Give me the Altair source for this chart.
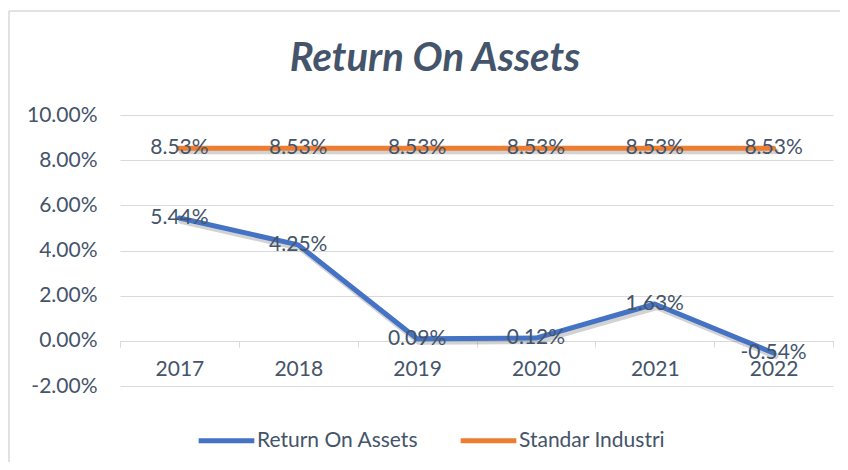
import altair as alt
import pandas as pd

years = ["2017", "2018", "2019", "2020", "2021", "2022"]
roa = [5.44, 4.25, 0.09, 0.12, 1.63, -0.54]
industry = [8.53, 8.53, 8.53, 8.53, 8.53, 8.53]
series_names = ["Return On Assets", "Standar Industri"]
series_colors = ["#4472C4", "#ED7D31"]
y_ticks = [-2, 0, 2, 4, 6, 8, 10]
chart_title = "Return On Assets"

rows = []
for name, vals in zip(series_names, [roa, industry]):
    for yr, v in zip(years, vals):
        rows.append({"year": yr, "value": v, "series": name, "label": f"{v:.2f}%"})
df = pd.DataFrame(rows)

FONT = "Lato"
TXT = "#44546A"
GRID = "#D9D9D9"
FS = 21

x_enc = alt.X(
    "year:N", sort=years,
    scale=alt.Scale(type="band", paddingInner=0, paddingOuter=0),
    axis=alt.Axis(title=None, offset=-45, labelAngle=0, domainColor=GRID,
                  tickColor=GRID, tickSize=6, tickBand="extent",
                  labelPadding=11, labelFontSize=FS, labelColor=TXT,
                  labelFont=FONT, grid=False),
)
y_enc = alt.Y(
    "value:Q",
    scale=alt.Scale(domain=[-2, 10], nice=False, zero=False),
    axis=alt.Axis(title=None, values=y_ticks, domain=False, ticks=False,
                  labelPadding=23, labelFontSize=FS, labelColor=TXT, labelFont=FONT,
                  gridColor=GRID, gridWidth=1,
                  labelExpr="replace(format(datum.value, '.2f'), '\u2212', '-') + '%'"),
)

base = alt.Chart(df)

shadow = base.mark_line(strokeWidth=6, color="#7f7f7f", opacity=0.35,
                        xOffset=2, yOffset=3, strokeJoin="round",
                        strokeCap="round").encode(
    x=x_enc, y=y_enc, detail="series:N")

lines = base.mark_line(strokeWidth=5, strokeJoin="round", strokeCap="round").encode(
    x=x_enc, y=y_enc,
    color=alt.Color("series:N", sort=series_names,
                    scale=alt.Scale(domain=series_names, range=series_colors),
                    legend=alt.Legend(orient="none", legendX=76, legendY=295,
                                      direction="horizontal", title=None,
                                      symbolType="stroke", symbolStrokeWidth=5,
                                      symbolSize=3100, labelFontSize=FS,
                                      labelFont=FONT, labelColor=TXT,
                                      labelLimit=400,
                                      columnPadding=31, labelOffset=0)),
)

labels = base.mark_text(fontSize=FS, font=FONT, color=TXT, baseline="middle",
                        align="center").encode(x=x_enc, y=y_enc, text="label:N")

one = pd.DataFrame({"t": [chart_title]})
frame_left = alt.Chart(one).mark_rule(color=GRID, strokeWidth=1.5).encode(
    x=alt.value(-111), y=alt.value(-104), y2=alt.value(360))
frame_top = alt.Chart(one).mark_rule(color=GRID, strokeWidth=1.5).encode(
    x=alt.value(-111), x2=alt.value(730), y=alt.value(-104))
title = alt.Chart(one).mark_text(fontSize=40, font=FONT, fontWeight="bold",
                                 fontStyle="italic", color=TXT, align="center",
                                 baseline="alphabetic").encode(
    x=alt.value(315), y=alt.value(-44), text="t:N")

chart = alt.layer(frame_left, frame_top, title, shadow, lines, labels).properties(
    width=713, height=271,
    padding={"left": 112, "top": 107, "right": 7, "bottom": 76},
    autosize=alt.AutoSizeParams(type="none"),
).configure_view(stroke=None)

chart.save("out.html", embed_options={"renderer": "svg", "actions": False})
